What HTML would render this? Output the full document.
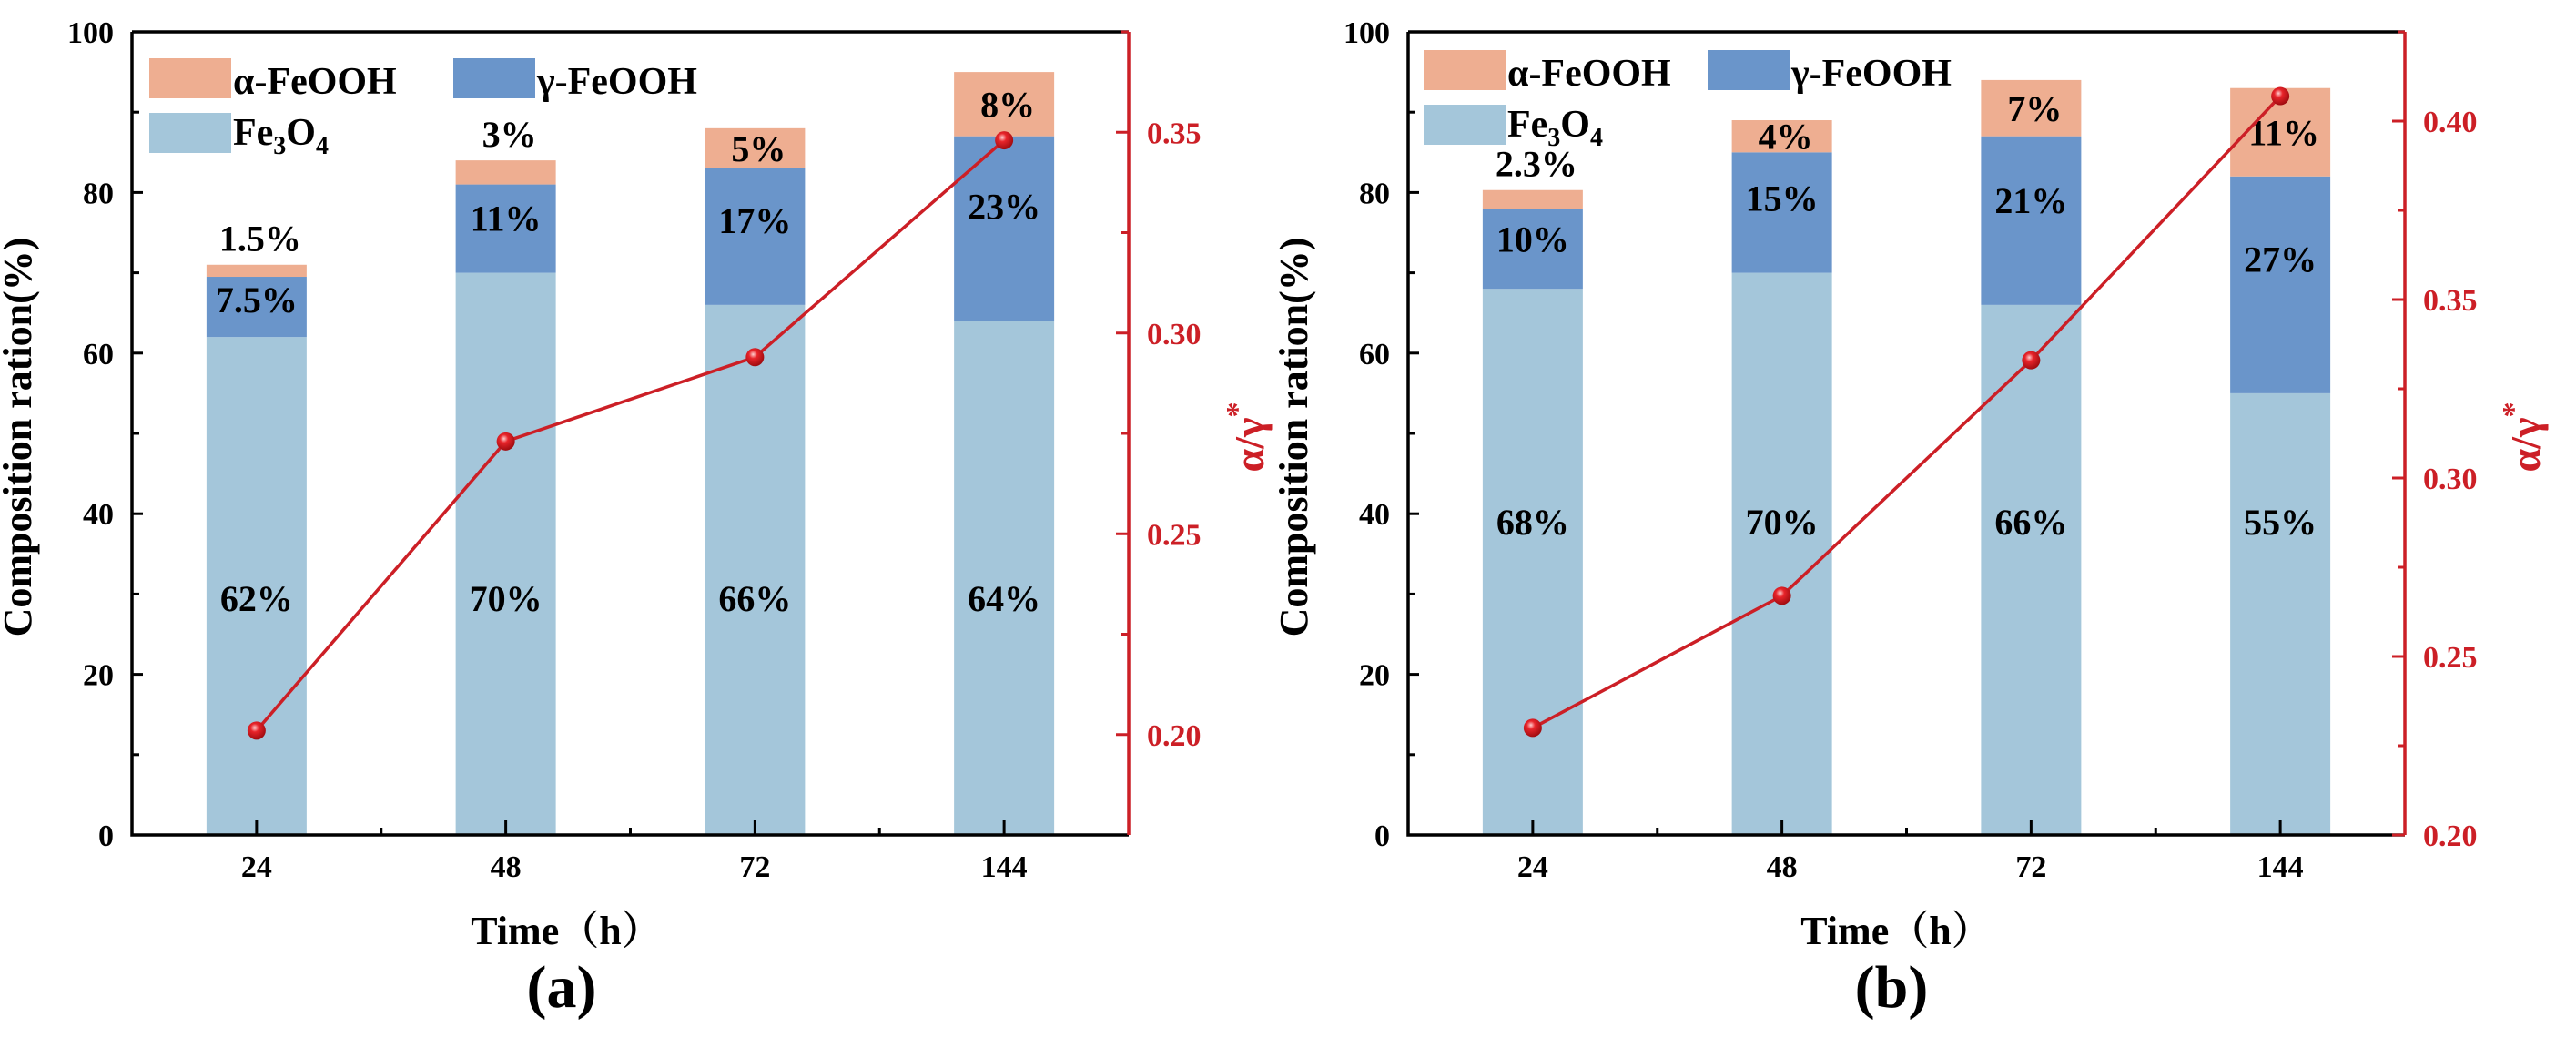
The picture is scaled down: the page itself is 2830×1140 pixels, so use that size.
<!DOCTYPE html>
<html><head><meta charset="utf-8">
<style>
html,body{margin:0;padding:0;background:#fff;}
svg, svg text, svg tspan{font-family:"Liberation Serif","Times New Roman","Noto Serif CJK SC",serif !important;font-weight:bold;}
</style></head>
<body>
<svg id="chart" width="2830" height="1135" viewBox="0 0 2830 1135" xmlns="http://www.w3.org/2000/svg" font-family="Liberation Serif, serif" font-weight="bold">
<defs>
<radialGradient id="ball" cx="0.4" cy="0.35" r="0.65">
<stop offset="0" stop-color="#ffd0d0"/><stop offset="0.35" stop-color="#e8242a"/><stop offset="1" stop-color="#a00c10"/>
</radialGradient>
</defs>
</svg>
<script>
const categories = ["24","48","72","144"];
const fe3o4A = [62,70,66,64];
const gammaA = [7.5,11,17,23];
const alphaA = [1.5,3,5,8];
const ratioA = [0.201,0.273,0.294,0.348];
const fe3o4B = [68,70,66,55];
const gammaB = [10,15,21,27];
const alphaB = [2.3,4,7,11];
const ratioB = [0.230,0.267,0.333,0.407];
const leftTicks = [0,20,40,60,80,100];
const rightTicksA = ["0.20","0.25","0.30","0.35"];
const rightTicksB = ["0.20","0.25","0.30","0.35","0.40"];

const NS="http://www.w3.org/2000/svg";
const svg=document.getElementById('chart');
function mk(tag,attrs,parent,text){const e=document.createElementNS(NS,tag);for(const k in attrs)e.setAttribute(k,attrs[k]);if(tag==='text'){e.setAttribute('font-family','Liberation Serif, serif');e.setAttribute('font-weight','bold');}if(text!==undefined)e.textContent=text;(parent||svg).appendChild(e);return e;}
const C_FE="#a4c6da",C_G="#6a95ca",C_A="#eeae91",RED="#cc1f26";

function panel(o){
  const g=mk('g',{});
  
  
  const L=o.left,R=o.right,T=35,B=917;
  const x=i=>L+(i+0.5)*(R-L)/4;
  const y=v=>B-(v/100)*(B-T);
  const yr=v=>B-(v-o.rmin)/(o.rmax-o.rmin)*(B-T);
  const bw=110;
  for(let i=0;i<categories.length;i++){
    const fe=o.fe[i],ga=o.ga[i],al=o.al[i];
    const b1=mk('rect',{x:x(i)-bw/2,y:y(fe),width:bw,height:y(0)-y(fe),fill:C_FE},g);
    
    
    const b2=mk('rect',{x:x(i)-bw/2,y:y(fe+ga),width:bw,height:y(fe)-y(fe+ga),fill:C_G},g);
    
    
    const b3=mk('rect',{x:x(i)-bw/2,y:y(fe+ga+al),width:bw,height:y(fe+ga)-y(fe+ga+al),fill:C_A},g);
    
    
    const t1=mk('text',{x:x(i),y:y(o.feLabel)+14,'text-anchor':'middle','font-size':40},g,fe+'%');
    
    
    const t2=mk('text',{x:x(i),y:y(fe+ga*0.62)+14,'text-anchor':'middle','font-size':40},g,ga+'%');
    
    
    const ay= al<4.5 && (o.above[i]) ? y(fe+ga+al+3.3)+14 : y(fe+ga+al*0.5)+14;
    const t3=mk('text',{x:x(i)+4,y:ay,'text-anchor':'middle','font-size':40},g,al+'%');
    
    
  }
  mk('path',{d:`M${L},${T}H${R}`,stroke:'#000','stroke-width':3.5,fill:'none'},g);
  mk('path',{d:`M${L},${T}V${B}H${R}`,stroke:'#000','stroke-width':3.5,fill:'none'},g);
  mk('path',{d:`M${R},${T}V${B}`,stroke:RED,'stroke-width':3.5,fill:'none'},g);
  for(let v=0;v<=100;v+=10){
    const len=(v%20===0)?12:8;
    mk('line',{x1:L,x2:L+len,y1:y(v),y2:y(v),stroke:'#000','stroke-width':3},g);
  }
  leftTicks.forEach(v=>{
    const t=mk('text',{x:L-20,y:y(v)+12,'text-anchor':'end','font-size':34},g,String(v));
    
    
  });
  for(let i=0;i<categories.length;i++){
    mk('line',{x1:x(i),x2:x(i),y1:B,y2:B-16,stroke:'#000','stroke-width':3},g);
    if(i<3) mk('line',{x1:x(i+0.5),x2:x(i+0.5),y1:B,y2:B-8,stroke:'#000','stroke-width':3},g);
    const t=mk('text',{x:x(i),y:963,'text-anchor':'middle','font-size':34},g,categories[i]);
    
    
  }
  for(let v=0.2;v<=o.rmax+1e-9;v+=0.025){
    if(v<o.rmin-1e-9)continue;
    const major=Math.abs(Math.round(v*20)-v*20)<1e-6;
    mk('line',{x1:R,x2:R-(major?14:8),y1:yr(v),y2:yr(v),stroke:RED,'stroke-width':3},g);
  }
  o.rt.forEach(s=>{
    const t=mk('text',{x:R+20,y:yr(parseFloat(s))+12,'font-size':34,fill:RED},g,s);
    
    
  });
  const pts=o.ratio.map((v,i)=>x(i)+','+yr(v)).join(' ');
  const pl=mk('polyline',{points:pts,fill:'none',stroke:RED,'stroke-width':3.5},g);
  
  
  o.ratio.forEach((v,i)=>{
    const c=mk('circle',{cx:x(i),cy:yr(v),r:10,fill:'url(#ball)'},g);
    
    
  });
  const lg=mk('g',{},g);
  
  
  const lx=L+o.lgx, ly=o.lgy;
  mk('rect',{x:lx,y:ly,width:90,height:44,fill:C_A},lg);
  mk('text',{x:lx+92,y:ly+39,'font-size':42},lg,'α-FeOOH');
  mk('rect',{x:lx+o.lgGap,y:ly,width:90,height:44,fill:C_G},lg);
  mk('text',{x:lx+o.lgGap+92,y:ly+39,'font-size':42},lg,'γ-FeOOH');
  mk('rect',{x:lx,y:ly+60,width:90,height:44,fill:C_FE},lg);
  const ft=mk('text',{x:lx+92,y:ly+95,'font-size':42},lg);
  ft.innerHTML='Fe<tspan font-size="28" dy="10">3</tspan><tspan dy="-10">O</tspan><tspan font-size="28" dy="10">4</tspan>';
  const yt=mk('text',{x:L-111,y:480,'text-anchor':'middle','font-size':44,transform:`rotate(-90 ${L-111} 480)`},g,'Composition ration(%)');
  
  
  const rtt=mk('text',{x:R+148,y:480,'text-anchor':'middle','font-size':46,fill:RED,transform:`rotate(-90 ${R+148} 480)`},g);
  rtt.innerHTML='α/γ<tspan dy="-18" font-size="34">*</tspan>';
  
  
  const xt=mk('text',{x:o.tx,y:1037,'text-anchor':'middle','font-size':44},g,'Time（h）');
  
  
  const pt=mk('text',{x:o.tx-5,y:1106,'text-anchor':'middle','font-size':66},g,o.tag);
  
  
}
panel({name:'panel-a',left:145,right:1240,rmin:0.175,rmax:0.375,fe:fe3o4A,ga:gammaA,al:alphaA,ratio:ratioA,feLabel:29.5,above:[1,1,0,0],rt:rightTicksA,lgx:19,lgy:64,lgGap:334,tx:622,tag:'(a)'});
panel({name:'panel-b',left:1547,right:2642,rmin:0.20,rmax:0.425,fe:fe3o4B,ga:gammaB,al:alphaB,ratio:ratioB,feLabel:39,above:[1,0,0,0],rt:rightTicksB,lgx:17,lgy:55,lgGap:312,tx:2083,tag:'(b)'});
</script>
</body></html>
